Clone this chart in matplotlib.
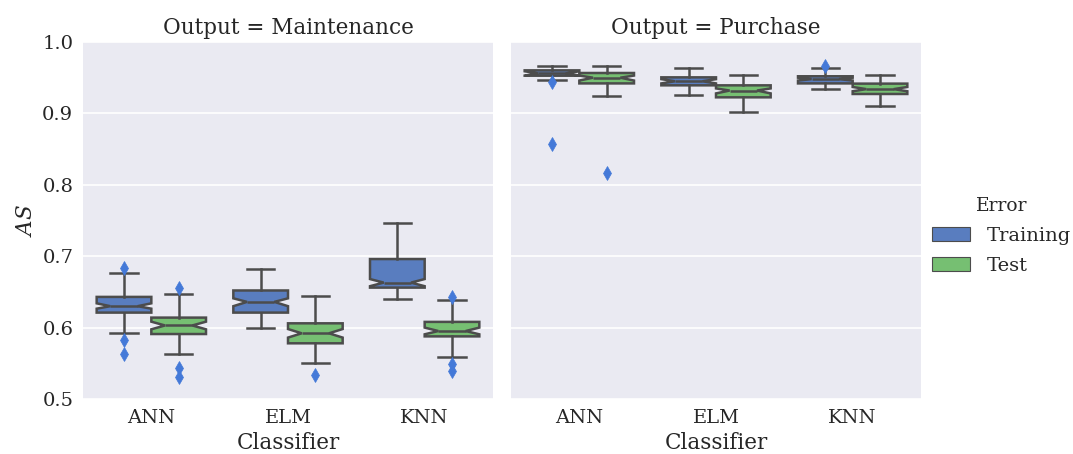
import matplotlib
matplotlib.use("Agg")
import matplotlib.pyplot as plt
from matplotlib.patches import Patch

plt.rcParams['font.family'] = ['DejaVu Serif']
plt.rcParams['mathtext.fontset'] = 'dejavuserif'

# data (box stats per group)
classifiers = ["ANN", "ELM", "KNN"]
errors = ["Training", "Test"]
outputs = ["Maintenance", "Purchase"]

# order: ANN-Training, ANN-Test, ELM-Training, ELM-Test, KNN-Training, KNN-Test
maint_q1 = [0.621, 0.591, 0.621, 0.578, 0.656, 0.5877]
maint_med = [0.630, 0.603, 0.636, 0.592, 0.663, 0.5952]
maint_q3 = [0.643, 0.614, 0.652, 0.606, 0.696, 0.608]
maint_lo = [0.593, 0.5635, 0.600, 0.550, 0.640, 0.5593]
maint_hi = [0.677, 0.647, 0.6825, 0.644, 0.746, 0.6387]
maint_cilo = [0.6265, 0.5976, 0.630, 0.586, 0.658, 0.5906]
maint_cihi = [0.634, 0.6083, 0.641, 0.598, 0.668, 0.600]
maint_fliers = [[0.683, 0.582, 0.5626], [0.655, 0.543, 0.5304], [], [0.5336], [],
                [0.6433, 0.5486, 0.539]]

purch_q1 = [0.9528, 0.942, 0.9393, 0.9225, 0.942, 0.9272]
purch_med = [0.956, 0.950, 0.945, 0.932, 0.948, 0.934]
purch_q3 = [0.9603, 0.9566, 0.9505, 0.9393, 0.952, 0.9417]
purch_lo = [0.9468, 0.924, 0.9253, 0.9024, 0.9337, 0.9108]
purch_hi = [0.9664, 0.9668, 0.963, 0.9538, 0.963, 0.954]
purch_cilo = [0.953, 0.946, 0.942, 0.928, 0.946, 0.931]
purch_cihi = [0.959, 0.953, 0.948, 0.935, 0.950, 0.937]
purch_fliers = [[0.9444, 0.857], [0.816], [], [], [0.967], []]

box_colors = ["#597DBF", "#76BF72"]
line_col = "#4c4c4c"
flier_col = "#4479d8"


def make_stats(q1, med, q3, lo, hi, cilo, cihi, fliers):
    stats = []
    for i in range(len(q1)):
        stats.append(dict(q1=q1[i], med=med[i], q3=q3[i], whislo=lo[i], whishi=hi[i],
                          cilo=cilo[i], cihi=cihi[i], fliers=fliers[i]))
    return stats


all_stats = [
    make_stats(maint_q1, maint_med, maint_q3, maint_lo, maint_hi, maint_cilo, maint_cihi, maint_fliers),
    make_stats(purch_q1, purch_med, purch_q3, purch_lo, purch_hi, purch_cilo, purch_cihi, purch_fliers),
]

fig = plt.figure(figsize=(10.73, 4.54), dpi=100)
ax1 = fig.add_axes([83 / 1073, 1 - 399 / 454, 410 / 1073, 357 / 454])
ax2 = fig.add_axes([511 / 1073, 1 - 399 / 454, 410 / 1073, 357 / 454], sharey=ax1)
axes = [ax1, ax2]

lw = 1.8
for k, ax in enumerate(axes):
    ax.set_facecolor("#EAEAF2")
    for s in ax.spines.values():
        s.set_visible(False)
    ax.set_axisbelow(True)
    ax.yaxis.grid(True, color="white", linewidth=1.2)
    ax.xaxis.grid(False)

    stats = all_stats[k]
    positions = []
    for i in range(len(classifiers)):
        positions += [i - 0.2, i + 0.2]
    res = ax.bxp(stats, positions=positions, widths=0.4, shownotches=True,
                 patch_artist=True, manage_ticks=False,
                 boxprops=dict(edgecolor=line_col, linewidth=lw),
                 whiskerprops=dict(color=line_col, linewidth=lw),
                 capprops=dict(color=line_col, linewidth=lw),
                 medianprops=dict(color=line_col, linewidth=lw),
                 flierprops=dict(marker="d", markerfacecolor=flier_col,
                                 markeredgecolor=flier_col, markersize=7.5,
                                 markeredgewidth=0.5, linestyle="none"))
    for j, box in enumerate(res["boxes"]):
        box.set_facecolor(box_colors[j % 2])

    ax.set_xlim(-0.5, 2.5)
    ax.set_xticks(range(len(classifiers)))
    ax.set_xticklabels(classifiers)
    ax.tick_params(axis="both", length=0, pad=7, labelsize=14, colors="#262626")
    ax.set_xlabel("Classifier", fontsize=15.5, color="#262626")
    ax.set_title("Output = " + outputs[k], fontsize=15.5, color="#262626")

ax1.set_ylim(0.5, 1.0)
ax1.set_yticks([0.5, 0.6, 0.7, 0.8, 0.9, 1.0])
ax1.set_yticklabels(["0.5", "0.6", "0.7", "0.8", "0.9", "1.0"])
ax1.set_ylabel("$AS$", fontsize=15.5, color="#262626")
plt.setp(ax2.get_yticklabels(), visible=False)

handles = [Patch(facecolor=box_colors[i], edgecolor=line_col, linewidth=0.8) for i in range(2)]
leg = fig.legend(handles, errors, title="Error", loc="center left",
                 bbox_to_anchor=(914 / 1073, 1 - 236 / 454), frameon=False,
                 fontsize=14, title_fontsize=13.5, handlelength=2.0,
                 handleheight=0.7, handletextpad=0.85, borderpad=0.4,
                 labelspacing=0.6)
for t in leg.get_texts():
    t.set_color("#262626")
leg.get_title().set_color("#262626")

fig.savefig("out.png", dpi=100)
